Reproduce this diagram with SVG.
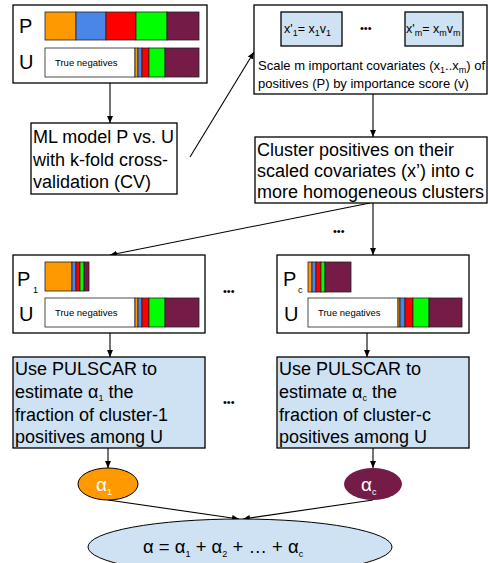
<svg xmlns="http://www.w3.org/2000/svg" width="488" height="563" viewBox="0 0 488 563">
<defs>
<marker id="ah" markerWidth="8" markerHeight="8" refX="7" refY="4" orient="auto" markerUnits="userSpaceOnUse">
<path d="M0,1 L7,4 L0,7 Z" fill="#000"/>
</marker>
<style>
.box{fill:#fff;stroke:#000;stroke-width:1.3}
.bl{fill:#cfe2f3;stroke:#000;stroke-width:1.3}
.seg{stroke:#222;stroke-width:0.8}
.t{font-family:"Liberation Sans",Arial,sans-serif;fill:#000}
.big{font-size:18px}
.lab{font-size:20px}
.sm{font-size:13px}
.tn{font-size:9.5px}
.sub{font-size:9px}
.dot{font-size:11px}
.con{stroke:#000;stroke-width:1.1;fill:none;marker-end:url(#ah)}
.O{fill:#ff9900}.B{fill:#4a86e8}.R{fill:#ff0000}.G{fill:#00ff00}.M{fill:#741b47}.W{fill:#fff}
</style>
</defs>
<rect width="488" height="563" fill="#fff"/>

<g id="connectors">
<line class="con" x1="110" y1="83" x2="110" y2="123"/>
<line class="con" x1="190" y1="157" x2="254" y2="52"/>
<line class="con" x1="373" y1="94" x2="373" y2="137"/>
<line class="con" x1="373" y1="203" x2="373" y2="255"/>
<line class="con" x1="370" y1="203" x2="110" y2="255"/>
<line class="con" x1="110" y1="333" x2="110" y2="357"/>
<line class="con" x1="367" y1="333" x2="367" y2="357"/>
<line class="con" x1="108" y1="448" x2="108" y2="468"/>
<line class="con" x1="373" y1="448" x2="373" y2="468"/>
<line class="con" x1="108" y1="500" x2="239" y2="519"/>
<line class="con" x1="373" y1="500" x2="243" y2="519"/>
</g>

<g id="pu-all">
<rect class="box" x="13" y="5" width="194" height="78"/>
<text class="t lab" x="19" y="33">P</text>
<text class="t lab" x="19" y="69">U</text>
<rect class="seg O" x="45" y="12" width="31" height="28"/>
<rect class="seg B" x="76" y="12" width="30" height="28"/>
<rect class="seg R" x="106" y="12" width="30" height="28"/>
<rect class="seg G" x="136" y="12" width="31" height="28"/>
<rect class="seg M" x="167" y="12" width="32" height="28"/>
<rect class="seg W" x="45" y="48" width="90" height="29"/>
<rect class="seg O" x="135" y="48" width="3" height="29"/>
<rect class="seg B" x="138" y="48" width="4" height="29"/>
<rect class="seg R" x="142" y="48" width="7" height="29"/>
<rect class="seg G" x="149" y="48" width="16" height="29"/>
<rect class="seg M" x="165" y="48" width="34" height="29"/>
<text class="t tn" x="55" y="66">True negatives</text>
</g>

<g id="ml-model">
<rect class="box" x="31" y="123" width="146" height="71"/>
<text class="t big" x="33" y="143">ML model P vs. U</text>
<text class="t big" x="33" y="166">with k-fold cross-</text>
<text class="t big" x="33" y="188">validation (CV)</text>
</g>

<g id="scale">
<rect class="box" x="254" y="5" width="233" height="89"/>
<rect class="bl" x="281" y="12" width="61" height="34"/>
<rect class="bl" x="405" y="12" width="58" height="34"/>
<text class="t" font-size="12.5" x="284" y="33">x'<tspan class="sub" dy="3">1</tspan><tspan dy="-3">= x</tspan><tspan class="sub" dy="3">1</tspan><tspan dy="-3">v</tspan><tspan class="sub" dy="3">1</tspan></text>
<text class="t dot" x="360" y="32">•••</text>
<text class="t" font-size="12.5" x="406" y="33">x'<tspan class="sub" dy="3">m</tspan><tspan dy="-3">= x</tspan><tspan class="sub" dy="3">m</tspan><tspan dy="-3">v</tspan><tspan class="sub" dy="3">m</tspan></text>
<text class="t sm" x="258" y="70">Scale m important covariates (x<tspan class="sub" dy="3">1</tspan><tspan dy="-3">..x</tspan><tspan class="sub" dy="3">m</tspan><tspan dy="-3">) of</tspan></text>
<text class="t sm" x="258" y="88">positives (P) by importance score (v)</text>
</g>

<g id="cluster">
<rect class="box" x="255" y="137" width="232" height="66"/>
<text class="t big" x="257" y="156">Cluster positives on their</text>
<text class="t big" x="257" y="177">scaled covariates (x’) into c</text>
<text class="t big" x="257" y="198">more homogeneous clusters</text>
</g>

<g id="dots">
<text class="t dot" x="333" y="235">•••</text>
<text class="t dot" x="223" y="295">•••</text>
<text class="t dot" x="223" y="406">•••</text>
</g>

<g id="pu-1">
<rect class="box" x="13" y="255" width="192" height="78"/>
<text class="t lab" x="17" y="286">P</text>
<text class="t sub" x="33" y="293">1</text>
<text class="t lab" x="19" y="321">U</text>
<rect class="seg O" x="45" y="262" width="27" height="29"/>
<rect class="seg B" x="72" y="262" width="4" height="29"/>
<rect class="seg R" x="76" y="262" width="4" height="29"/>
<rect class="seg G" x="80" y="262" width="4" height="29"/>
<rect class="seg M" x="84" y="262" width="5" height="29"/>
<rect class="seg W" x="45" y="298" width="90" height="29"/>
<rect class="seg O" x="135" y="298" width="3" height="29"/>
<rect class="seg B" x="138" y="298" width="4" height="29"/>
<rect class="seg R" x="142" y="298" width="7" height="29"/>
<rect class="seg G" x="149" y="298" width="16" height="29"/>
<rect class="seg M" x="165" y="298" width="34" height="29"/>
<text class="t tn" x="55" y="316">True negatives</text>
</g>

<g id="pu-c">
<rect class="box" x="277" y="255" width="192" height="78"/>
<text class="t lab" x="283" y="286">P</text>
<text class="t sub" x="298" y="293">c</text>
<text class="t lab" x="284" y="321">U</text>
<rect class="seg O" x="308" y="262" width="4" height="30"/>
<rect class="seg B" x="312" y="262" width="4" height="30"/>
<rect class="seg R" x="316" y="262" width="5" height="30"/>
<rect class="seg G" x="321" y="262" width="4" height="30"/>
<rect class="seg M" x="325" y="262" width="26" height="30"/>
<rect class="seg W" x="308" y="298" width="90" height="29"/>
<rect class="seg O" x="398" y="298" width="2" height="29"/>
<rect class="seg B" x="400" y="298" width="5" height="29"/>
<rect class="seg R" x="405" y="298" width="8" height="29"/>
<rect class="seg G" x="413" y="298" width="16" height="29"/>
<rect class="seg M" x="429" y="298" width="33" height="29"/>
<text class="t tn" x="318" y="316">True negatives</text>
</g>

<g id="pulscar-1">
<rect class="bl" x="13" y="357" width="192" height="91"/>
<text class="t big" x="15" y="375">Use PULSCAR to</text>
<text class="t big" x="15" y="398">estimate α<tspan class="sub" dy="3">1</tspan><tspan dy="-3"> the</tspan></text>
<text class="t big" x="15" y="421">fraction of cluster-1</text>
<text class="t big" x="15" y="443">positives among U</text>
</g>

<g id="pulscar-c">
<rect class="bl" x="277" y="357" width="192" height="91"/>
<text class="t big" x="279" y="375">Use PULSCAR to</text>
<text class="t big" x="279" y="398">estimate α<tspan class="sub" dy="3">c</tspan><tspan dy="-3"> the</tspan></text>
<text class="t big" x="279" y="421">fraction of cluster-c</text>
<text class="t big" x="279" y="443">positives among U</text>
</g>

<g id="alpha-1">
<ellipse cx="108" cy="484" rx="30" ry="16" fill="#ff9900" stroke="#000" stroke-width="1"/>
<text class="t" font-size="19" style="fill:#fff" x="96" y="491">α<tspan class="sub" dy="4">1</tspan></text>
</g>

<g id="alpha-c">
<ellipse cx="373" cy="484" rx="29" ry="16" fill="#741b47"/>
<text class="t" font-size="19" style="fill:#fff" x="361" y="491">α<tspan class="sub" dy="4">c</tspan></text>
</g>

<g id="alpha-sum">
<ellipse cx="240" cy="547" rx="152" ry="28" fill="#cfe2f3" stroke="#000" stroke-width="1"/>
<text class="t" font-size="18.5" x="143" y="553">α = α<tspan class="sub" dy="4">1</tspan><tspan dy="-4"> + α</tspan><tspan class="sub" dy="4">2</tspan><tspan dy="-4"> + … + α</tspan><tspan class="sub" dy="4">c</tspan></text>
</g>
</svg>
